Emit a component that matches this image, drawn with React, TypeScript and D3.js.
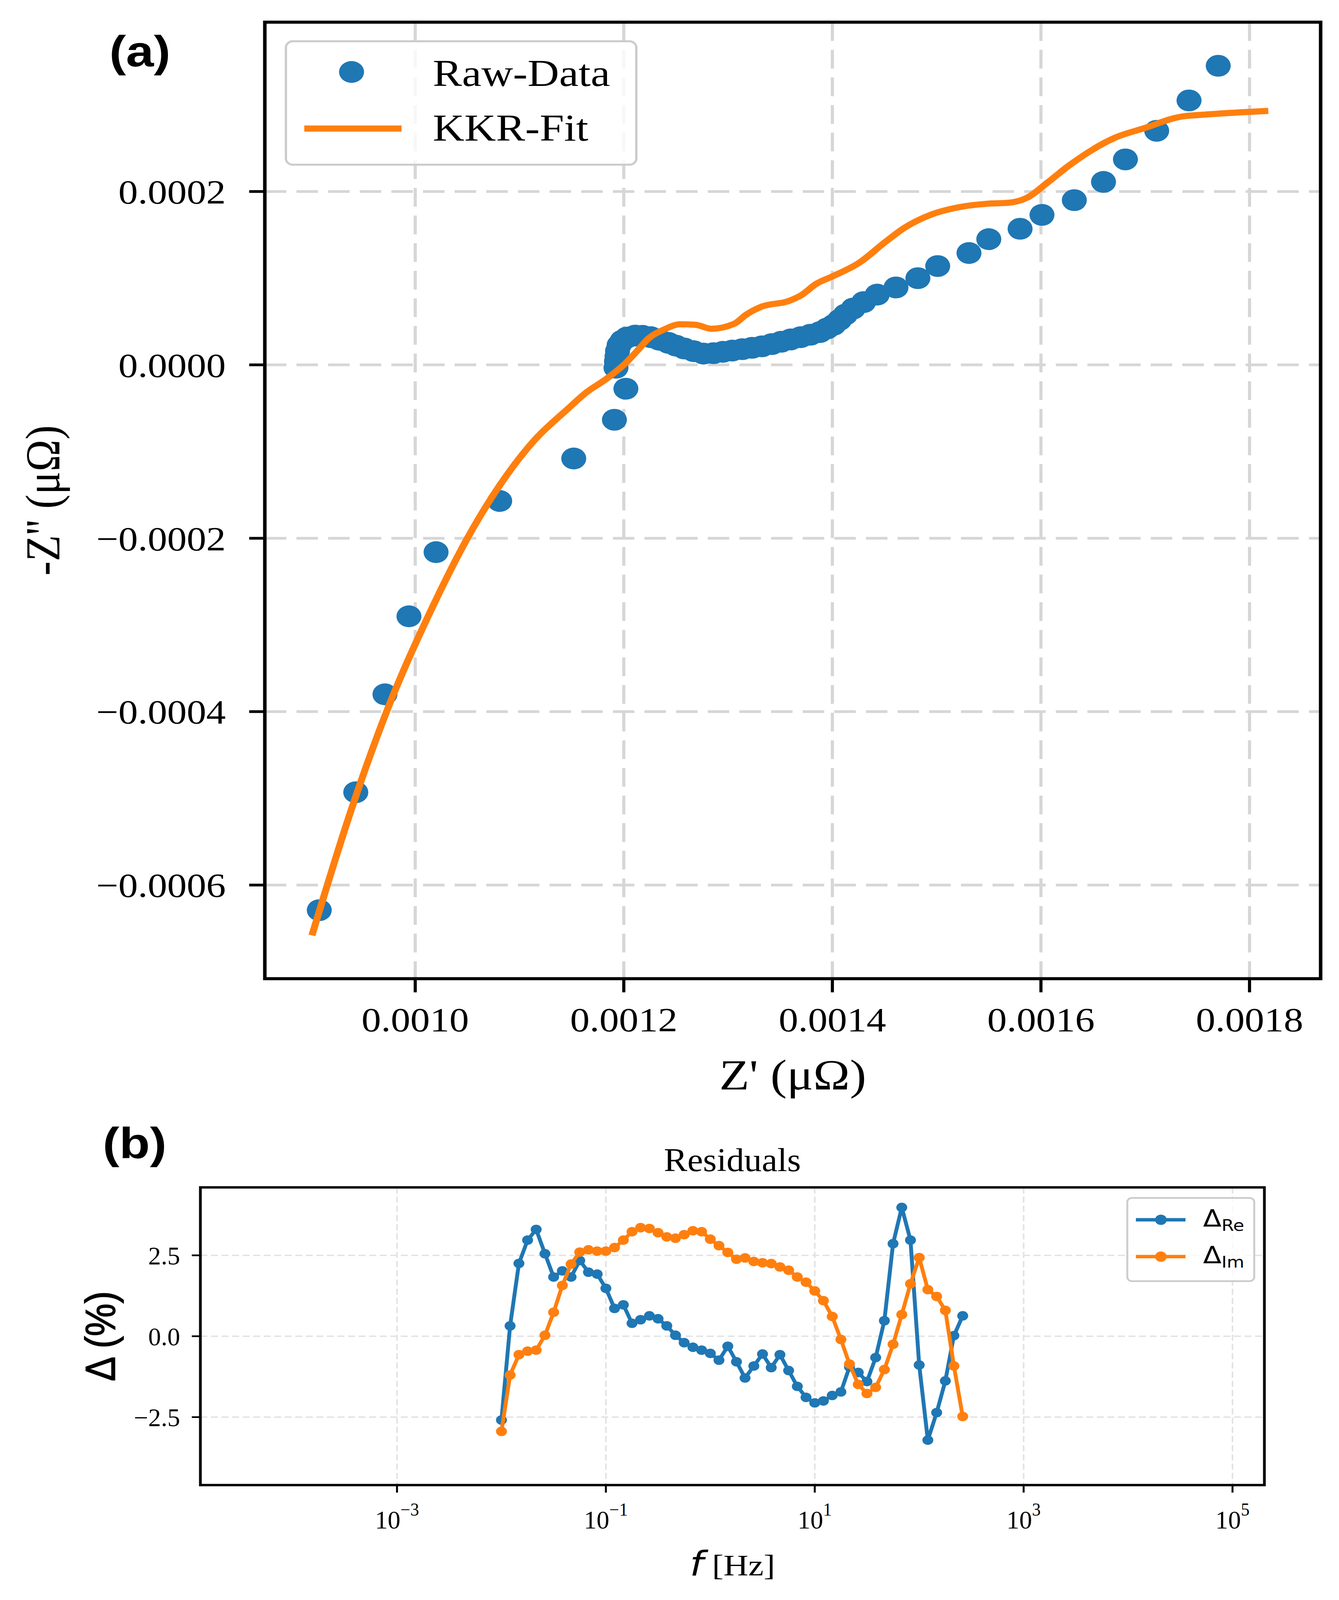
import * as d3 from "d3";

// ---- panel (a): Nyquist plot ----
const rawRe = [
  0.000908, 0.000943, 0.000971, 0.000994, 0.00102, 0.001081, 0.001152, 0.001191, 0.001202,
  0.0011925, 0.001193, 0.0011935, 0.001194, 0.0011955, 0.0011985, 0.001203, 0.001211, 0.001218,
  0.001226, 0.001234, 0.0012428, 0.00125, 0.001258, 0.001267, 0.0012764, 0.001286, 0.001295,
  0.001304, 0.0013137, 0.001323, 0.0013325, 0.001342, 0.001351, 0.00136, 0.0013696, 0.001379,
  0.001388, 0.001395, 0.0014013, 0.001407, 0.0014125, 0.00142, 0.00143, 0.001443, 0.001461,
  0.001482, 0.001501, 0.001531, 0.00155, 0.00158, 0.001601, 0.001632, 0.00166, 0.001681,
  0.001711, 0.001742, 0.00177,
];
const rawIm = [
  -0.000629, -0.000493, -0.00038, -0.00029, -0.000216, -0.000157, -0.000108, -0.0000633, -0.0000275,
  -0.0000033, 0.000004, 0.0000098, 0.000016, 0.0000228, 0.000028, 0.0000315, 0.0000338, 0.0000335,
  0.0000319, 0.000029, 0.0000254, 0.0000222, 0.0000189, 0.0000158, 0.000013, 0.0000135, 0.000015,
  0.0000165, 0.0000181, 0.0000197, 0.0000214, 0.000024, 0.0000267, 0.0000293, 0.0000319, 0.0000348,
  0.0000378, 0.000042, 0.0000462, 0.000052, 0.000058, 0.000065, 0.0000724, 0.000081, 0.0000893,
  0.0001, 0.000114, 0.000129, 0.000145, 0.000157, 0.000173, 0.00019, 0.000211, 0.000237,
  0.00027, 0.000305, 0.000345,
];
const fitRe = [
  0.000901, 0.000939, 0.0009745, 0.0010175, 0.00105, 0.001085, 0.001114, 0.001146, 0.0011644,
  0.001183, 0.0012017, 0.0012128, 0.001224, 0.001239, 0.001254, 0.001269, 0.0012838, 0.0013062,
  0.0013175, 0.0013325, 0.001358, 0.00137, 0.0013842, 0.0014, 0.001426, 0.001451, 0.001469,
  0.001494, 0.001522, 0.00155, 0.001569, 0.001587, 0.001606, 0.001627, 0.001671, 0.001699,
  0.001733, 0.001761, 0.001818,
];
const fitIm = [
  -0.000658, -0.000512, -0.000394, -0.000277, -0.0002, -0.000132, -0.0000873, -0.0000511, -0.0000315,
  -0.0000164, 0.000002, 0.0000161, 0.0000307, 0.000041, 0.0000468, 0.0000462, 0.0000417, 0.0000476,
  0.000058, 0.0000673, 0.0000736, 0.0000802, 0.0000932, 0.000102, 0.000118, 0.000142, 0.000158,
  0.000173, 0.000182, 0.000186, 0.000187, 0.000193, 0.00021, 0.00023, 0.000262, 0.000273,
  0.000286, 0.000289, 0.000293,
];
const topXTicks = [0.001, 0.0012, 0.0014, 0.0016, 0.0018];
const topYTicks = [-0.0006, -0.0004, -0.0002, 0, 0.0002];

// ---- panel (b): residuals ----
const freq = [
  0.01, 0.0121, 0.0147, 0.0178, 0.0215, 0.0261, 0.0316, 0.0383, 0.0464, 0.0562, 0.0681, 0.0825,
  0.1, 0.121, 0.147, 0.178, 0.215, 0.261, 0.316, 0.383, 0.464, 0.562, 0.681, 0.825,
  1, 1.21, 1.47, 1.78, 2.15, 2.61, 3.16, 3.83, 4.64, 5.62, 6.81, 8.25,
  10, 12.1, 14.7, 17.8, 21.5, 26.1, 31.6, 38.3, 46.4, 56.2, 68.1, 82.5,
  100, 121, 147, 178, 215, 261,
];
const dRe = [
  -2.59, 0.32, 2.25, 2.97, 3.3, 2.55, 1.83, 2.02, 1.83, 2.34, 1.98, 1.92,
  1.48, 0.86, 0.97, 0.4, 0.51, 0.63, 0.54, 0.32, 0.03, -0.2, -0.34, -0.43,
  -0.53, -0.74, -0.31, -0.79, -1.29, -0.92, -0.55, -0.97, -0.57, -1.06, -1.55, -1.89,
  -2.06, -2.0, -1.83, -1.72, -0.95, -1.12, -1.4, -0.66, 0.48, 2.86, 3.98, 2.97,
  -0.89, -3.21, -2.36, -1.38, 0.02, 0.63,
];
const dIm = [
  -2.94, -1.2, -0.57, -0.46, -0.43, 0.03, 0.74, 1.57, 2.23, 2.6, 2.67, 2.63,
  2.63, 2.74, 2.97, 3.23, 3.355, 3.33, 3.2, 3.07, 3.03, 3.14, 3.26, 3.23,
  3.0, 2.8, 2.59, 2.38, 2.42, 2.31, 2.27, 2.245, 2.14, 2.04, 1.83, 1.67,
  1.4, 1.1, 0.61, -0.1, -0.86, -1.49, -1.77, -1.58, -1.03, -0.25, 0.67, 1.62,
  2.43, 1.44, 1.23, 0.8, -0.92, -2.48,
];
const botXTicks = [1e-3, 1e-1, 1e1, 1e3, 1e5];
const botXExp = ["\u22123", "\u22121", "1", "3", "5"];
const botYTicks = [-2.5, 0, 2.5];

const BLUE = "#1f77b4";
const ORANGE = "#ff7f0e";
const SERIF = "'Liberation Serif', 'Times New Roman', serif";
const SANS = "'Liberation Sans', Arial, sans-serif";
const MATH = "'DejaVu Sans', sans-serif";

const minus = (s: string) => s.replace("-", "\u2212");

export default function App() {
  const W = 3428;
  const H = 4692;

  // panel (a) scales
  const xA = d3.scaleLinear().domain([0.0008558, 0.0018682]).range([678, 3381]);
  const yA = d3.scaleLinear().domain([-0.000708, 0.0003953]).range([2870, 65]);
  const [aL, aR] = xA.range();
  const [aB, aT] = yA.range();

  // panel (b) scales
  const xB = d3.scaleLog().domain([1.31e-5, 2.02e5]).range([513, 3237]);
  const yB = d3.scaleLinear().domain([-4.6, 4.6]).range([4355, 3482]);
  const [bL, bR] = xB.range();
  const [bB, bT] = yB.range();

  const fitPts = fitRe.map((v, i) => [v, fitIm[i]] as [number, number]);
  const fitLine = d3
    .line<[number, number]>()
    .x((d) => xA(d[0]))
    .y((d) => yA(d[1]))
    .curve(d3.curveMonotoneX)(fitPts);

  const reLine = d3
    .line<number>()
    .x((_, i) => xB(freq[i]))
    .y((d) => yB(d))(dRe);
  const imLine = d3
    .line<number>()
    .x((_, i) => xB(freq[i]))
    .y((d) => yB(d))(dIm);

  return (
    <svg
      viewBox={`0 0 ${W} ${H}`}
      preserveAspectRatio="none"
      style={{ position: "fixed", left: 0, top: 0, width: "100vw", height: "100vh", background: "#fff" }}
    >
      <rect x={0} y={0} width={W} height={H} fill="#fff" />

      {/* ================= panel (a) ================= */}
      <text x={280} y={195} fontFamily={SANS} fontWeight="bold" fontSize={128}>
        (a)
      </text>

      {/* grid */}
      <g stroke="#d6d6d6" strokeWidth={8} strokeDasharray="55,26">
        {topXTicks.map((t) => (
          <line key={"gx" + t} x1={xA(t)} x2={xA(t)} y1={aT} y2={aB} />
        ))}
        {topYTicks.map((t) => (
          <line key={"gy" + t} x1={aL} x2={aR} y1={yA(t)} y2={yA(t)} />
        ))}
      </g>

      {/* raw data */}
      <g fill={BLUE}>
        {rawRe.map((v, i) => (
          <circle key={"r" + i} cx={xA(v)} cy={yA(rawIm[i])} r={32} />
        ))}
      </g>
      {/* KKR fit */}
      <path d={fitLine || ""} fill="none" stroke={ORANGE} strokeWidth={18} strokeLinejoin="round" />

      {/* spines */}
      <rect x={aL} y={aT} width={aR - aL} height={aB - aT} fill="none" stroke="#000" strokeWidth={9} />

      {/* x ticks */}
      {topXTicks.map((t) => (
        <g key={"xt" + t}>
          <line x1={xA(t)} x2={xA(t)} y1={aB} y2={aB + 40} stroke="#000" strokeWidth={8} />
          <text x={xA(t)} y={3024} textAnchor="middle" fontFamily={SERIF} fontSize={100}>
            {t.toFixed(4)}
          </text>
        </g>
      ))}
      {/* y ticks */}
      {topYTicks.map((t) => (
        <g key={"yt" + t}>
          <line x1={aL - 40} x2={aL} y1={yA(t)} y2={yA(t)} stroke="#000" strokeWidth={8} />
          <text x={578} y={yA(t) + 35} textAnchor="end" fontFamily={SERIF} fontSize={100}>
            {minus(t.toFixed(4))}
          </text>
        </g>
      ))}

      <text x={(aL + aR) / 2} y={3195} textAnchor="middle" fontFamily={SERIF} fontSize={126}>
        Z' (μΩ)
      </text>
      <text
        transform={`translate(152,${(aT + aB) / 2}) rotate(-90)`}
        textAnchor="middle"
        fontFamily={SERIF}
        fontSize={126}
      >
        -Z'' (μΩ)
      </text>

      {/* legend (a) */}
      <rect x={732} y={121} width={897} height={362} rx={18} fill="#fff" fillOpacity={0.8} stroke="#cccccc" strokeWidth={6} />
      <circle cx={900} cy={211} r={32} fill={BLUE} />
      <line x1={779} x2={1028} y1={377} y2={377} stroke={ORANGE} strokeWidth={18} />
      <text x={1108} y={252} fontFamily={SERIF} fontSize={112}>
        Raw-Data
      </text>
      <text x={1108} y={412} fontFamily={SERIF} fontSize={112}>
        KKR-Fit
      </text>

      {/* ================= panel (b) ================= */}
      <text x={263} y={3397} fontFamily={SANS} fontWeight="bold" fontSize={128}>
        (b)
      </text>
      <text
        transform={`translate(${(bL + bR) / 2},3434) scale(0.94,1)`}
        textAnchor="middle"
        fontFamily={SERIF}
        fontSize={96}
      >
        Residuals
      </text>

      {/* grid */}
      <g stroke="#e2e2e2" strokeWidth={4} strokeDasharray="18,9">
        {botXTicks.map((t) => (
          <line key={"bgx" + t} x1={xB(t)} x2={xB(t)} y1={bT} y2={bB} />
        ))}
        {botYTicks.map((t) => (
          <line key={"bgy" + t} x1={bL} x2={bR} y1={yB(t)} y2={yB(t)} />
        ))}
      </g>

      {/* series */}
      <path d={reLine || ""} fill="none" stroke={BLUE} strokeWidth={10} strokeLinejoin="round" />
      <g fill={BLUE}>
        {dRe.map((v, i) => (
          <circle key={"re" + i} cx={xB(freq[i])} cy={yB(v)} r={14} />
        ))}
      </g>
      <path d={imLine || ""} fill="none" stroke={ORANGE} strokeWidth={10} strokeLinejoin="round" />
      <g fill={ORANGE}>
        {dIm.map((v, i) => (
          <circle key={"im" + i} cx={xB(freq[i])} cy={yB(v)} r={14} />
        ))}
      </g>

      {/* spines */}
      <rect x={bL} y={bT} width={bR - bL} height={bB - bT} fill="none" stroke="#000" strokeWidth={7} />

      {/* x ticks */}
      {botXTicks.map((t, i) => (
        <g key={"bxt" + t}>
          <line x1={xB(t)} x2={xB(t)} y1={bB} y2={bB + 22} stroke="#000" strokeWidth={5} />
          <text
            transform={`translate(${xB(t)},4482) scale(0.86,1)`}
            textAnchor="middle"
            fontFamily={SERIF}
            fontSize={76}
          >
            10
            <tspan fontSize={52} dy={-38}>
              {botXExp[i]}
            </tspan>
          </text>
        </g>
      ))}
      {/* y ticks */}
      {botYTicks.map((t) => (
        <g key={"byt" + t}>
          <line x1={bL - 22} x2={bL} y1={yB(t)} y2={yB(t)} stroke="#000" strokeWidth={5} />
          <text
            transform={`translate(461,${yB(t) + 27}) scale(0.88,1)`}
            textAnchor="end"
            fontFamily={SERIF}
            fontSize={74}
          >
            {minus(t.toFixed(1))}
          </text>
        </g>
      ))}

      <text x={(bL + bR) / 2} y={4620} textAnchor="middle" fontSize={88}>
        <tspan fontFamily={MATH} fontStyle="italic" fontSize={100}>
          f
        </tspan>
        <tspan fontFamily={SERIF}> [Hz]</tspan>
      </text>
      <text
        transform={`translate(294,${(bT + bB) / 2}) rotate(-90)`}
        textAnchor="middle"
        fontFamily={SANS}
        fontSize={108}
        stroke="#000"
        strokeWidth={2}
      >
        Δ (%)
      </text>

      {/* legend (b) */}
      <rect x={2886} y={3513} width={325} height={244} rx={12} fill="#fff" fillOpacity={0.8} stroke="#cccccc" strokeWidth={5} />
      <line x1={2908} x2={3035} y1={3577} y2={3577} stroke={BLUE} strokeWidth={10} />
      <circle cx={2972} cy={3577} r={15} fill={BLUE} />
      <line x1={2908} x2={3035} y1={3685} y2={3685} stroke={ORANGE} strokeWidth={10} />
      <circle cx={2972} cy={3685} r={15} fill={ORANGE} />
      <text x={3080} y={3597} fontFamily={MATH} fontSize={69}>
        Δ
        <tspan fontSize={46} dy={12}>
          Re
        </tspan>
      </text>
      <text x={3080} y={3705} fontFamily={MATH} fontSize={69}>
        Δ
        <tspan fontSize={46} dy={12}>
          Im
        </tspan>
      </text>
    </svg>
  );
}
